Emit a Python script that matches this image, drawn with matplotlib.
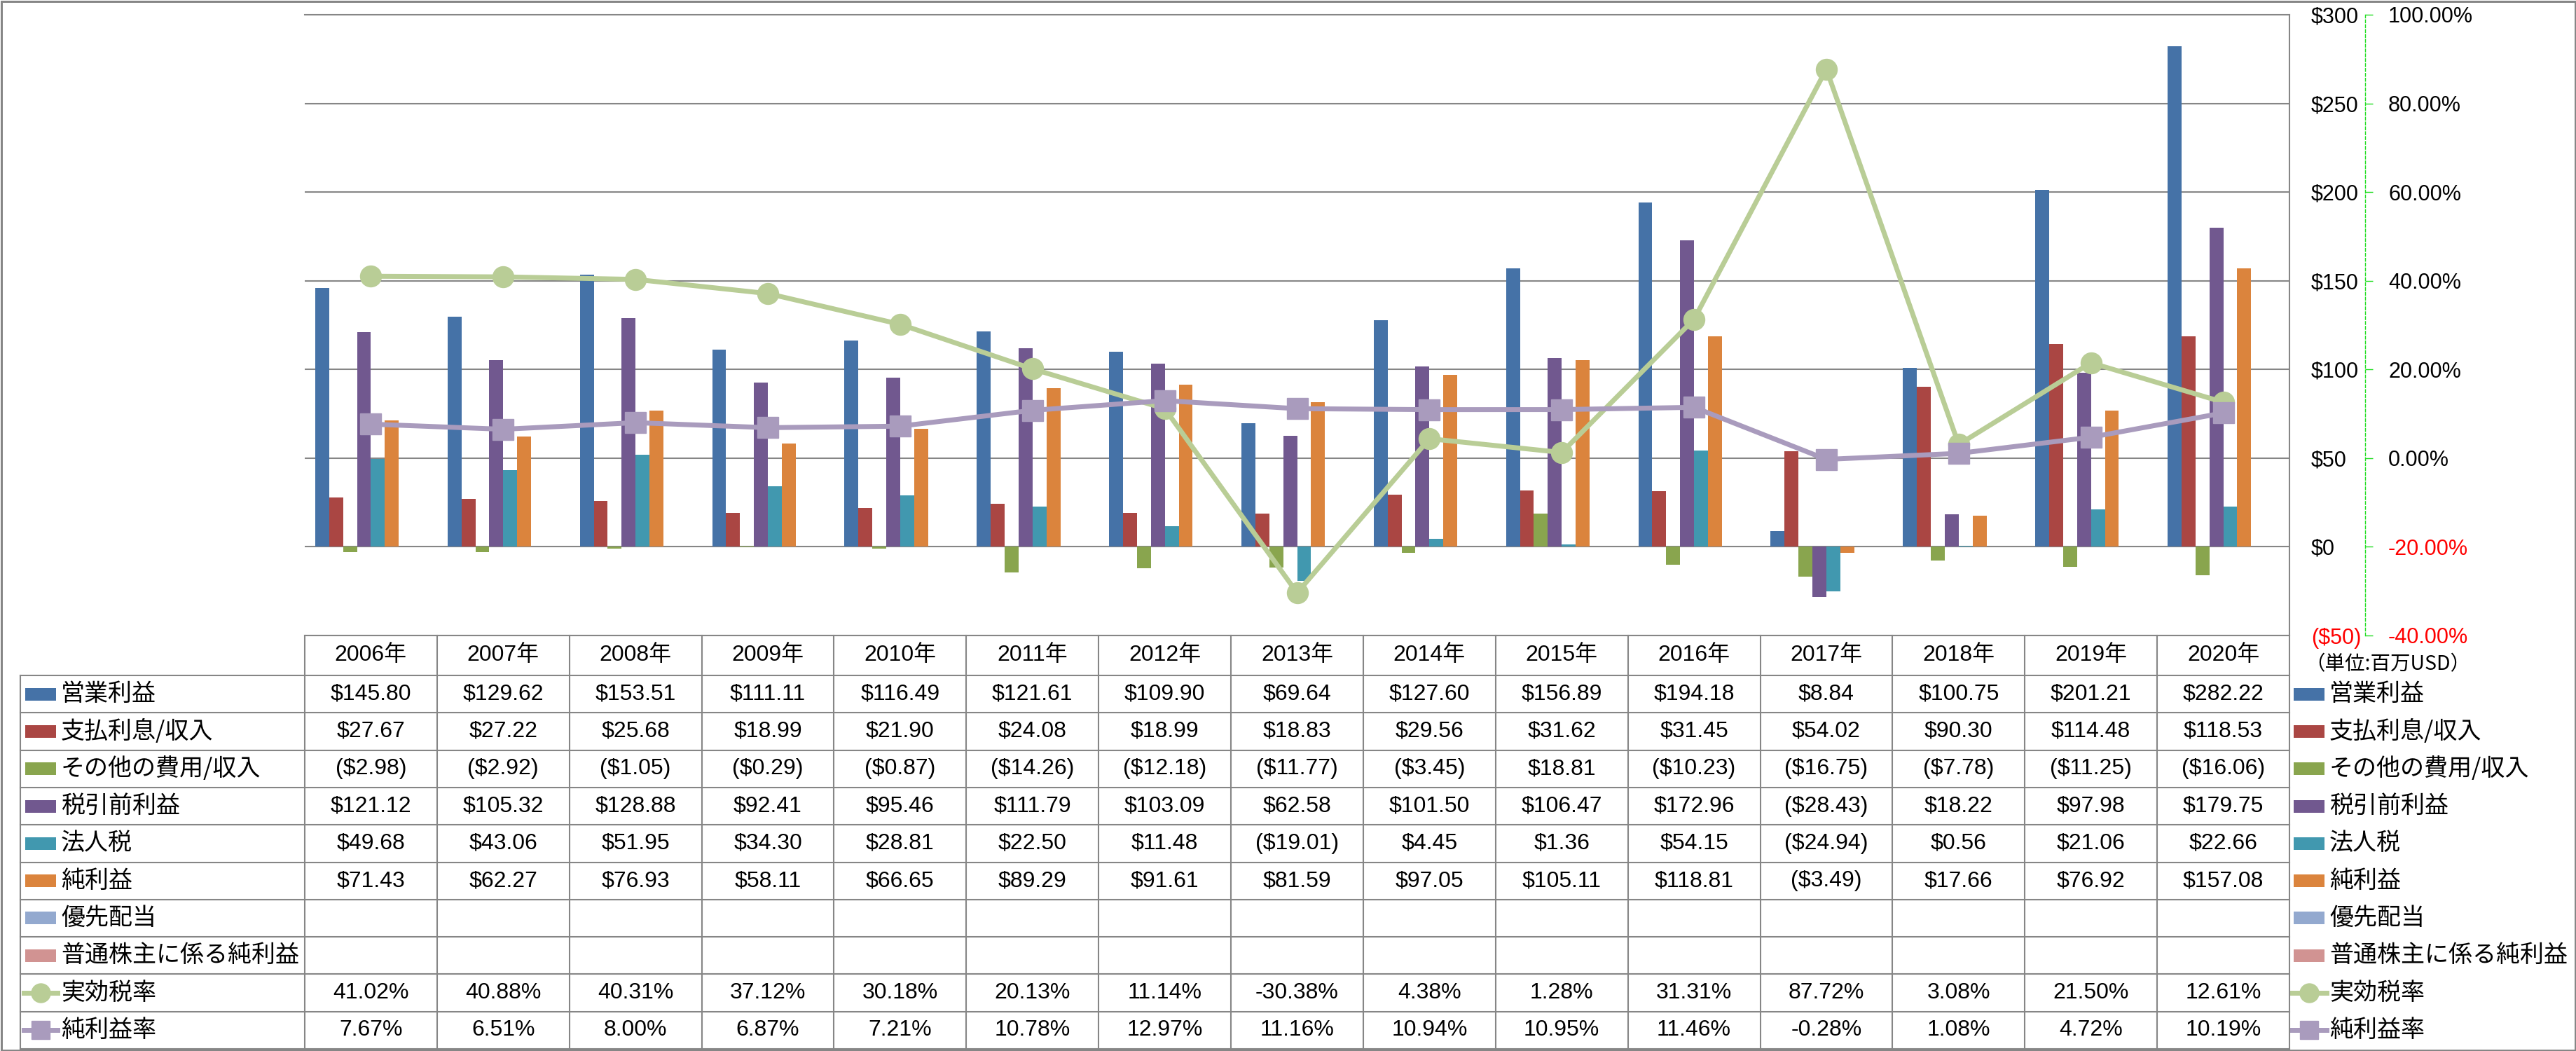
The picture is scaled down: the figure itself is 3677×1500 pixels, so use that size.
import matplotlib
matplotlib.use('Agg')
import matplotlib.pyplot as plt
import numpy as np
from matplotlib.patches import Rectangle
from matplotlib.lines import Line2D

# ---------------- data ----------------
years = ['2006年', '2007年', '2008年', '2009年', '2010年', '2011年', '2012年', '2013年',
         '2014年', '2015年', '2016年', '2017年', '2018年', '2019年', '2020年']
op_income = [145.80, 129.62, 153.51, 111.11, 116.49, 121.61, 109.90, 69.64,
             127.60, 156.89, 194.18, 8.84, 100.75, 201.21, 282.22]
interest = [27.67, 27.22, 25.68, 18.99, 21.90, 24.08, 18.99, 18.83,
            29.56, 31.62, 31.45, 54.02, 90.30, 114.48, 118.53]
other_exp = [-2.98, -2.92, -1.05, -0.29, -0.87, -14.26, -12.18, -11.77,
             -3.45, 18.81, -10.23, -16.75, -7.78, -11.25, -16.06]
pretax = [121.12, 105.32, 128.88, 92.41, 95.46, 111.79, 103.09, 62.58,
          101.50, 106.47, 172.96, -28.43, 18.22, 97.98, 179.75]
income_tax = [49.68, 43.06, 51.95, 34.30, 28.81, 22.50, 11.48, -19.01,
              4.45, 1.36, 54.15, -24.94, 0.56, 21.06, 22.66]
net_income = [71.43, 62.27, 76.93, 58.11, 66.65, 89.29, 91.61, 81.59,
              97.05, 105.11, 118.81, -3.49, 17.66, 76.92, 157.08]
pref_div = [None] * 15
common_net = [None] * 15
eff_tax_rate = [41.02, 40.88, 40.31, 37.12, 30.18, 20.13, 11.14, -30.38,
                4.38, 1.28, 31.31, 87.72, 3.08, 21.50, 12.61]
net_margin = [7.67, 6.51, 8.00, 6.87, 7.21, 10.78, 12.97, 11.16,
              10.94, 10.95, 11.46, -0.28, 1.08, 4.72, 10.19]

bar_names = ['営業利益', '支払利息/収入', 'その他の費用/収入', '税引前利益', '法人税',
             '純利益', '優先配当', '普通株主に係る純利益']
line_names = ['実効税率', '純利益率']
bar_series = [op_income, interest, other_exp, pretax, income_tax, net_income, pref_div, common_net]
line_series = [eff_tax_rate, net_margin]

bar_colors = ['#4572A7', '#AA4643', '#89A54E', '#71588F', '#4198AF', '#DB843D', '#93A9CF', '#D19392']
line_colors = ['#B9CD96', '#A99BBD']
line_markers = ['o', 's']

usd_ticks = [-50, 0, 50, 100, 150, 200, 250, 300]
pct_ticks = [-40, -20, 0, 20, 40, 60, 80, 100]

# ---------------- layout ----------------
W, H = 3677, 1500
DPI = 100
PX = 72.0 / DPI  # points per pixel

NUM_FONT = ['Liberation Sans', 'Noto Sans CJK JP']
JP_FONT = ['Noto Sans CJK JP', 'DejaVu Sans']
GRID = '#868686'
AXGREEN = '#22DD22'

fig = plt.figure(figsize=(W / DPI, H / DPI), dpi=DPI)
fig.patch.set_facecolor('white')

L, R, T, B = 435, 3268, 21, 907

# table / decoration layer (pixel coordinates)
tab = fig.add_axes([0, 0, 1, 1], zorder=0)
tab.set_xlim(0, W)
tab.set_ylim(H, 0)
tab.axis('off')

ax = fig.add_axes([L / W, 1 - B / H, (R - L) / W, (B - T) / H], zorder=1)
ax.patch.set_visible(False)

n = len(years)
x = np.arange(n)
nb = len(bar_series)
bw = 1.0 / (nb + 1.5)

for i, (vals, col) in enumerate(zip(bar_series, bar_colors)):
    if all(v is None for v in vals):
        continue
    ax.bar(x + (i - (nb - 1) / 2) * bw, vals, width=bw, align='center',
           color=col, edgecolor='none', zorder=2)

ax.set_xlim(-0.5, n - 0.5)
ax.set_ylim(-50, 300)
ax.set_xticks([])
ax.yaxis.grid(True, color=GRID, lw=1.5)
ax.set_axisbelow(True)
for s in ['left', 'right', 'bottom']:
    ax.spines[s].set_visible(False)
ax.spines['top'].set_color(GRID)
ax.spines['top'].set_linewidth(1.5)

ax2 = ax.twinx()
ax2.set_zorder(2)
ax2.patch.set_visible(False)

# primary ($) tick labels on the right, left of the green axis line
ax.yaxis.tick_right()
ax.yaxis.set_label_position('right')
ax.set_yticks(usd_ticks)
ax.set_yticklabels([('($%d)' % -v) if v < 0 else ('$%d' % v) for v in usd_ticks])
ax.tick_params(axis='y', which='both', left=False, right=True, labelleft=False,
               labelright=True, length=0, pad=31 * PX, labelsize=22)
for lab, v in zip(ax.get_yticklabels(), usd_ticks):
    lab.set_color('red' if v < 0 else 'black')
    lab.set_family(NUM_FONT)

# secondary (%) axis
ax2.set_ylim(-0.4, 1.0)
ax2.set_yticks([v / 100 for v in pct_ticks])
ax2.set_yticklabels(['%.2f%%' % v for v in pct_ticks])
for s in ['left', 'top', 'bottom']:
    ax2.spines[s].set_visible(False)
ax2.spines['right'].set_position(('axes', (3376 - L) / (R - L)))
ax2.spines['right'].set_color(AXGREEN)
ax2.spines['right'].set_linestyle((0, (3, 2)))
ax2.spines['right'].set_linewidth(1.0)
ax2.tick_params(axis='y', direction='out', length=11 * PX, width=1.0,
                color=AXGREEN, pad=22 * PX, labelsize=22)
for lab, v in zip(ax2.get_yticklabels(), pct_ticks):
    lab.set_color('red' if v < 0 else 'black')
    lab.set_family(NUM_FONT)

for vals, col, mk in zip(line_series, line_colors, line_markers):
    ax2.plot(x, [v / 100 for v in vals], color=col, lw=7 * PX, marker=mk,
             ms=30 * PX, mfc=col, mec=col, mew=1, zorder=3, clip_on=False)

# ---------------- data table ----------------
cw = (R - L) / n
row_top = 964
rh = (1497 - row_top) / 10.0
hdr_top = B

for j, yr in enumerate(years):
    tab.text(L + (j + 0.5) * cw, (hdr_top + row_top) / 2, yr, ha='center', va='center',
             fontsize=23, family=NUM_FONT)


def money(v):
    if v is None:
        return ''
    return ('($%.2f)' % -v) if v < 0 else ('$%.2f' % v)


def pct(v):
    return '%.2f%%' % v


rows = [(bar_names[i], bar_series[i], 'bar', bar_colors[i], money) for i in range(nb)]
rows += [(line_names[i], line_series[i], 'line', line_colors[i], pct) for i in range(2)]
line_mk = {line_colors[0]: 'o', line_colors[1]: 's'}

for r, (name, vals, kind, col, fmt) in enumerate(rows):
    yc = row_top + (r + 0.5) * rh
    if kind == 'bar':
        tab.add_patch(Rectangle((36, yc - 9), 44, 18, color=col, lw=0))
        tab.add_patch(Rectangle((3274, yc - 9), 44, 18, color=col, lw=0))
    else:
        mk = line_mk[col]
        tab.add_line(Line2D([34, 82], [yc, yc], color=col, lw=7 * PX))
        tab.add_line(Line2D([58], [yc], color=col, marker=mk, ms=27 * PX, mfc=col, mec=col))
        tab.add_line(Line2D([3271, 3321], [yc, yc], color=col, lw=7 * PX))
        tab.add_line(Line2D([3296], [yc], color=col, marker=mk, ms=27 * PX, mfc=col, mec=col))
    tab.text(87, yc, name, ha='left', va='center', fontsize=24.5, family=JP_FONT)
    tab.text(3325, yc, name, ha='left', va='center', fontsize=24.5, family=JP_FONT)
    for j, v in enumerate(vals):
        s = fmt(v) if v is not None else ''
        if s:
            tab.text(L + (j + 0.5) * cw, yc, s, ha='center', va='center',
                     fontsize=23, family=NUM_FONT)

# table grid lines
lw_tab = 1.5
tab.plot([L, R], [hdr_top, hdr_top], color=GRID, lw=lw_tab)
for r in range(11):
    yy = row_top + r * rh
    tab.plot([29, R], [yy, yy], color=GRID, lw=lw_tab)
tab.plot([29, 29], [row_top, row_top + 10 * rh], color=GRID, lw=lw_tab)
for j in range(n):
    xx = L + j * cw
    tab.plot([xx, xx], [hdr_top, row_top + 10 * rh], color=GRID, lw=lw_tab)
tab.plot([R, R], [T, row_top + 10 * rh], color=GRID, lw=lw_tab)

# unit note
tab.text(3290, 948, '（単位:百万USD）', ha='left', va='center', fontsize=20.5, family=JP_FONT)

# outer border
tab.add_patch(Rectangle((1.5, 1.5), W - 3, H - 3, fill=False, edgecolor=GRID, lw=3 * PX))

fig.savefig('out.png', dpi=DPI, facecolor='white')
